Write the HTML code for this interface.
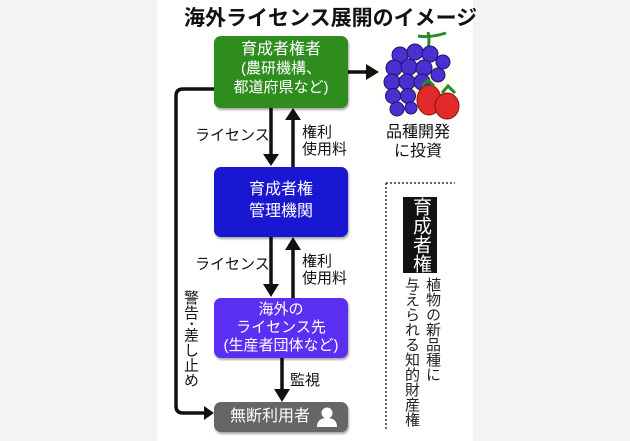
<!DOCTYPE html>
<html><head><meta charset="utf-8"><style>
body{margin:0;width:630px;height:441px;background:#f2f3f5;overflow:hidden;font-family:"Liberation Sans","Noto Sans CJK JP",sans-serif}
.card{position:absolute;left:157px;top:0;width:316px;height:441px;background:#fff}
.t{position:absolute;white-space:nowrap;color:#111}
.box{position:absolute;border-radius:7px;color:#fff;text-align:center;box-shadow:1px 2px 2px rgba(0,0,0,.35)}
.v{writing-mode:vertical-rl;position:absolute;white-space:nowrap}
</style></head><body>
<div class="card"></div>
<div class="t" style="left:184px;top:2px;font-size:21px;font-weight:bold">海外ライセンス展開のイメージ</div>

<svg width="630" height="441" style="position:absolute;left:0;top:0">
<defs><radialGradient id="g"><stop offset="0" stop-color="#fff59a"/><stop offset="1" stop-color="#fff" stop-opacity="0"/></radialGradient></defs>
<ellipse cx="418" cy="82" rx="52" ry="46" fill="url(#g)"/>
<g stroke="#111" stroke-width="3.5" fill="none">
<path d="M214 89 H183 Q176 89 176 96 V406 Q176 413 183 413 H204"/>
<line x1="271" y1="108" x2="271" y2="156"/>
<line x1="293" y1="167" x2="293" y2="118"/>
<line x1="271" y1="237" x2="271" y2="286"/>
<line x1="293" y1="298" x2="293" y2="247"/>
<line x1="282" y1="358" x2="282" y2="390"/>
<line x1="348" y1="72" x2="368" y2="72"/>
</g>
<g fill="#111">
<polygon points="204,406 214,413 204,420"/>
<polygon points="263,154 279,154 271,166"/>
<polygon points="285,120 301,120 293,108"/>
<polygon points="263,284 279,284 271,297"/>
<polygon points="285,250 301,250 293,237"/>
<polygon points="274,389 290,389 282,402"/>
<polygon points="366,64 379,72 366,80"/>
</g>
<path d="M428 50 Q430 40 428 32 M418 36 Q430 38 446 33" stroke="#2a8a2a" stroke-width="3" fill="none"/>
<g fill="#4a30cc" stroke="#22107a" stroke-width="1">
<circle cx="400" cy="55" r="8"/><circle cx="415" cy="52" r="8"/><circle cx="430" cy="54" r="8"/><circle cx="443" cy="62" r="7"/>
<circle cx="394" cy="68" r="8"/><circle cx="409" cy="67" r="8"/><circle cx="424" cy="68" r="8"/><circle cx="438" cy="75" r="7"/>
<circle cx="392" cy="82" r="8"/><circle cx="407" cy="82" r="8"/><circle cx="422" cy="82" r="8"/>
<circle cx="393" cy="96" r="7.5"/><circle cx="408" cy="96" r="7.5"/><circle cx="397" cy="109" r="7"/><circle cx="411" cy="108" r="6"/>
</g>
<g fill="#e22a2a" stroke="#8a1010" stroke-width="1">
<ellipse cx="429" cy="100" rx="12" ry="15"/><ellipse cx="447" cy="106" rx="12" ry="13"/>
</g>
<path d="M422 86 l6 -6 6 6 M442 93 l6 -7 7 7" stroke="#2a8a2a" stroke-width="3" fill="none"/>
<g stroke="#333" stroke-width="1.5" stroke-dasharray="2,2" fill="none">
<line x1="386" y1="183" x2="455" y2="183"/><line x1="386" y1="183" x2="386" y2="430"/>
</g>
</svg>

<div class="t" style="left:382px;top:123px;font-size:16px;line-height:19px;text-align:center;width:72px">品種開発<br>に投資</div>

<div class="box" style="left:214px;top:36px;width:134px;height:72px;background:#2f8d20;font-size:15px;line-height:19px;padding-top:4px;box-sizing:border-box">
<div style="font-size:16px">育成者権者</div><div>(農研機構、<br>都道府県など)</div></div>
<div class="box" style="left:214px;top:167px;width:134px;height:70px;background:#1a17d2;font-size:16px;line-height:22px;padding-top:12px;box-sizing:border-box">育成者権<br>管理機関</div>
<div class="box" style="left:214px;top:298px;width:134px;height:60px;background:#5b2ff2;font-size:15px;line-height:18px;padding-top:3px;box-sizing:border-box">海外の<br>ライセンス先<br>(生産者団体など)</div>
<div class="box" style="left:214px;top:402px;width:134px;height:30px;background:#666;font-size:16px;line-height:30px;text-align:left;padding-left:16px;box-sizing:border-box">無断利用者
<svg width="22" height="22" style="position:absolute;right:10px;top:4px"><circle cx="11" cy="7" r="5.5" fill="#fff"/><path d="M1 21 Q1 12 11 12 Q21 12 21 21Z" fill="#fff"/></svg></div>

<div class="t" style="left:195px;top:124px;font-size:15px">ライセンス</div>
<div class="t" style="left:302px;top:124px;font-size:15px;line-height:17px">権利<br>使用料</div>
<div class="t" style="left:195px;top:253px;font-size:15px">ライセンス</div>
<div class="t" style="left:302px;top:253px;font-size:15px;line-height:17px">権利<br>使用料</div>
<div class="t" style="left:290px;top:369px;font-size:15px">監視</div>
<div class="v" style="left:180px;top:290px;font-size:15px;color:#111">警告･差し止め</div>

<div class="v" style="left:403px;top:197px;width:34px;height:76px;background:#111;color:#fff;font-size:19px;line-height:34px;text-align:center">育成者権</div>
<div class="v" style="left:424px;top:277px;font-size:15px;line-height:17px;color:#222">植物の新品種に</div>
<div class="v" style="left:403px;top:277px;font-size:15px;line-height:17px;color:#222">与えられる知的財産権</div>
</body></html>
